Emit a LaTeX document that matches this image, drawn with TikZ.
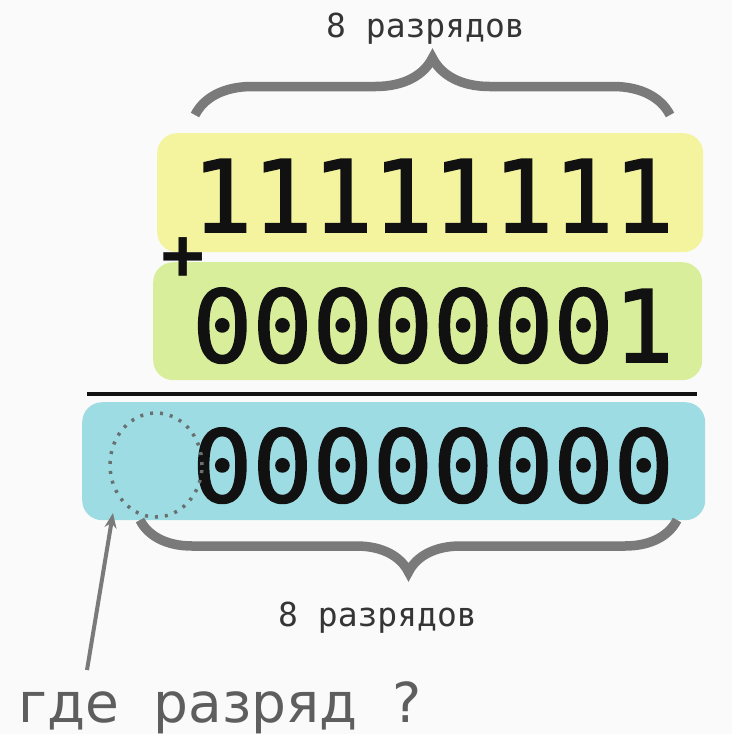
\documentclass[tikz,border=0pt]{standalone}
\usepackage{fontspec}
\setmainfont{DejaVu Sans}
\setmonofont{DejaVu Sans Mono}
\newfontfamily\bitsfont[FakeBold=1.6]{DejaVu Sans Mono}
\usetikzlibrary{decorations.pathreplacing, arrows.meta, shapes.geometric}
\definecolor{Ink}{HTML}{111111}
\definecolor{Brace}{HTML}{7A7A7A}
\definecolor{Paper}{HTML}{FAFAFA}
\definecolor{Lemon}{HTML}{F4F49E}
\definecolor{Lime}{HTML}{D9EE9B}
\definecolor{Sky}{HTML}{9EDCE4}
\definecolor{Note}{HTML}{5E5E5E}
\tikzset{
    numbox/.style={rectangle, rounded corners=20pt, inner sep=0pt, anchor=north west},
    bits/.style={inner sep=0pt, anchor=base west, text=Ink, font=\bitsfont\fontsize{100}{100}\selectfont},
    bracket/.style={decorate, decoration={brace, amplitude=#1}, line width=9.5pt, color=Brace},
    caption/.style={inner sep=0pt, anchor=base, text=Ink!85, font=\ttfamily\fontsize{33}{33}\selectfont},
}

\begin{document}
\begin{tikzpicture}[x=1pt, y=-1pt]

    % Fond
    \fill[Paper] (0,0) rectangle (732,734);
    \useasboundingbox (0,0) rectangle (732,734);

    % Cases colorees
    \node[numbox, fill=Lemon, minimum width=546pt, minimum height=119pt] (boxA) at (157,133) {};
    \node[numbox, fill=Lime, minimum width=549pt, minimum height=118pt] (boxB) at (153,262) {};
    \node[numbox, fill=Sky, minimum width=623pt, minimum height=118pt] (boxC) at (82,402) {};

    % Chiffres
    \node[bits] (addend) at (192,232) {11111111};
    \node[bits] (addone) at (192,362) {00000001};
    \node[bits] (result) at (192,502) {00000000};
    \node[inner sep=0pt, text=Ink, font=\ttfamily\bfseries\fontsize{72}{72}\selectfont] (plus) at (183,259) {+};

    % Trait de somme
    \draw[line width=4.5pt, Ink] (87,394) -- (697,394);

    % Case perdue
    \node[ellipse, draw=Note!85!Sky, line width=3.5pt, dash pattern=on 3pt off 7pt,
          minimum width=92pt, minimum height=104pt, inner sep=0pt] (slot) at (156,465) {};

    % Accolades
    \coordinate (topL) at (195,115);
    \coordinate (topR) at (670,115);
    \coordinate (botL) at (140,520);
    \coordinate (botR) at (677,520);
    \draw[bracket=57pt] (topL) -- (topR);
    \draw[bracket=52pt] (botR) -- (botL);
    \node[caption] (topnote) at (425.5,37) {8 разрядов};
    \node[caption] (botnote) at (377.5,626) {8 разрядов};

    % Question
    \coordinate (lost) at (113,513);
    \coordinate (tail) at (87,670);
    \node[inner sep=0pt, anchor=base west, text=Note, font=\fontsize{55}{55}\selectfont] (where) at (18,722) {где\ \ разряд\ \ ?};
    \draw[-{Stealth[length=15pt, width=12pt]}, line width=4pt, Brace] (tail) -- (lost);

\end{tikzpicture}
\end{document}
